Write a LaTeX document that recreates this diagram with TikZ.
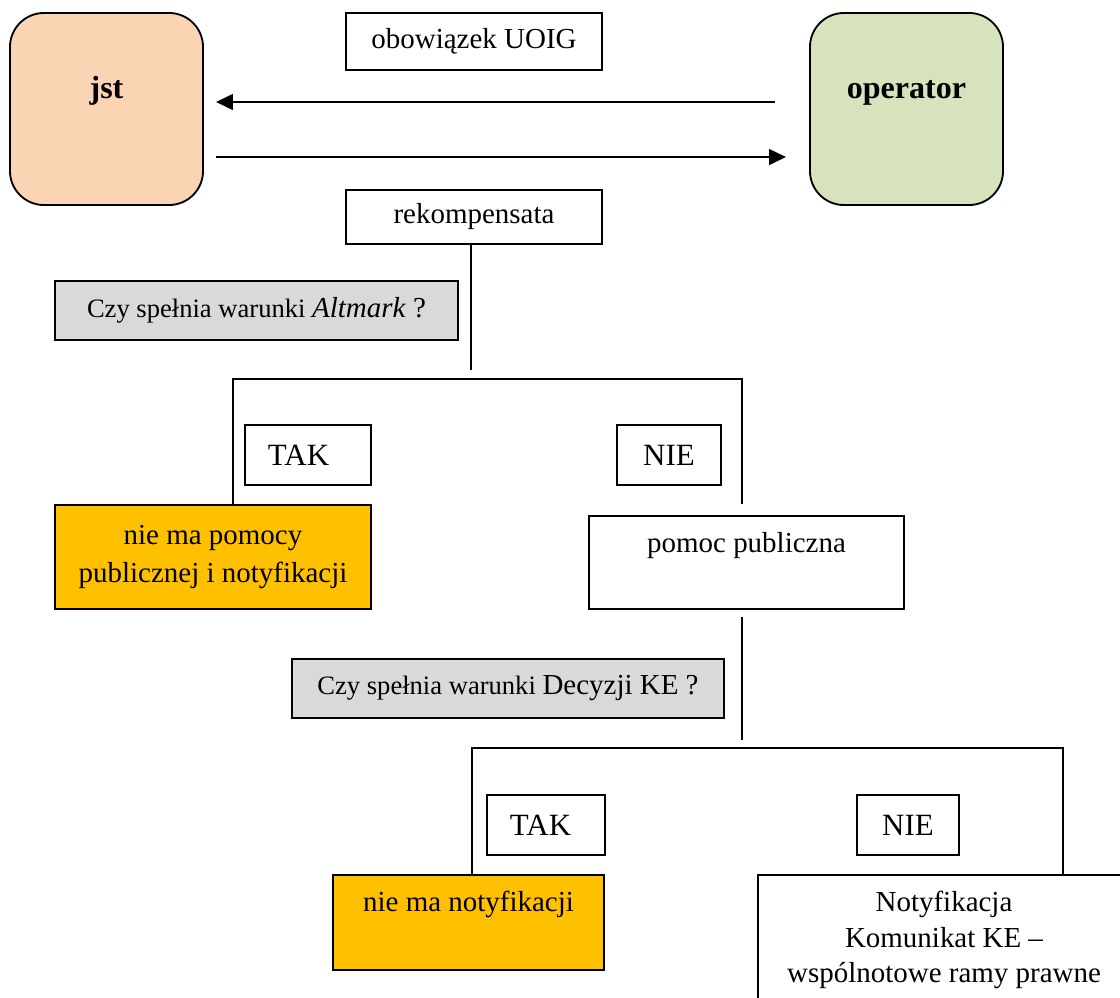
\documentclass[tikz,border=0pt]{standalone}
\usepackage{fontspec}
\setmainfont{Liberation Serif}
\usetikzlibrary{arrows.meta}
\definecolor{jstpeach}{RGB}{251,212,180}
\definecolor{opgreen}{RGB}{214,227,188}
\definecolor{querygray}{RGB}{217,217,217}
\definecolor{resultorange}{RGB}{255,192,0}
\newcommand{\txtsize}{\fontsize{20.6}{27}\selectfont}
\newcommand{\qsize}{\fontsize{18.9}{23}\selectfont}
\newcommand{\tagsize}{\fontsize{22}{26}\selectfont}
\newcommand{\partysize}{\fontsize{22.8}{27}\selectfont}
\tikzset{
  block/.style={rectangle, draw, line width=1.3pt, inner sep=0pt,
    align=center, font=\txtsize},
  party/.style={block, rounded corners=0.85cm, minimum width=4.825cm,
    minimum height=4.8cm, text height=2.15cm, text depth=2.65cm,
    font=\partysize\bfseries},
  query/.style={block, fill=querygray, minimum height=1.475cm},
  tagbox/.style={block, minimum height=1.5cm, font=\tagsize},
  result/.style={block, fill=resultorange},
  link/.style={line width=1.3pt},
  arrow/.style={-{Triangle[length=12pt, width=11pt]}, line width=1.9pt},
}
\begin{document}
\begin{tikzpicture}[x=0.025cm, y=-0.025cm]
  \useasboundingbox (0,0) rectangle (1120,998);
  \clip (0,0) rectangle (1120,998);
  % parties
  \node[party, fill=jstpeach] (jst) at (106.5,109) {jst};
  \node[party, fill=opgreen] (operator) at (906.5,109) {operator};
  \node[block, minimum width=6.4cm, minimum height=1.425cm]
    (duty) at (474,41.5) {obowiązek UOIG};
  \node[block, minimum width=6.4cm, minimum height=1.35cm]
    (comp) at (474,217) {rekompensata};
  % first test
  \node[query, minimum width=10.075cm]
    (altmark) at (256.5,310.5) {{\qsize Czy spełnia warunki }\textit{Altmark} ?};
  \node[tagbox, align=left, text width=2cm, inner xsep=0.575cm]
    (tak1) at (308,455) {TAK};
  \node[tagbox, minimum width=2.6cm] (nie1) at (669,455) {NIE};
  \node[result, minimum width=7.9cm, minimum height=2.6cm]
    (noaid) at (213,557) {nie ma pomocy\\publicznej i notyfikacji};
  \node[block, minimum width=7.875cm, text height=0.9125cm, text depth=1.4125cm]
    (aid) at (746.5,562.5) {pomoc publiczna};
  % second test
  \node[query, minimum width=10.8cm]
    (decision) at (508,688.5) {{\qsize Czy spełnia warunki }Decyzji KE ?};
  \node[tagbox, align=left, text width=1.8cm, inner xsep=0.575cm]
    (tak2) at (546,825) {TAK};
  \node[tagbox, minimum width=2.55cm] (nie2) at (908,825) {NIE};
  \node[result, minimum width=6.775cm, text height=0.9125cm, text depth=1.4625cm]
    (nonotif) at (468.5,922.5) {nie ma notyfikacji};
  \node[block, minimum width=9.3cm, minimum height=3.25cm,
        font=\fontsize{20.6}{25}\selectfont]
    (notif) at (944,940) {Notyfikacja\\Komunikat KE --\\wspólnotowe ramy prawne};
  % branch points
  \coordinate (split1) at (471,370);
  \coordinate (fork1l) at (233,379);
  \coordinate (fork1r) at (742,379);
  \coordinate (split2) at (742,740);
  \coordinate (fork2l) at (472,748);
  \coordinate (fork2r) at (1063,748);
  % connectors
  \draw[arrow, shorten <=0.85cm, shorten >=0.3cm]
    ([yshift=0.175cm]operator.west) -- ([yshift=0.175cm]jst.east);
  \draw[arrow, shorten <=0.3cm, shorten >=0.575cm]
    ([yshift=-1.2cm]jst.east) -- ([yshift=-1.2cm]operator.west);
  \draw[link] (comp.south -| split1) -- (split1);
  \draw[link] (noaid.north -| fork1l) -- (fork1l) -- (fork1r)
    -- ([yshift=0.275cm]aid.north -| fork1r);
  \draw[link] ([yshift=-0.175cm]aid.south -| split2) -- (split2);
  \draw[link] (nonotif.north -| fork2l) -- (fork2l) -- (fork2r)
    -- (notif.north -| fork2r);
\end{tikzpicture}
\end{document}
